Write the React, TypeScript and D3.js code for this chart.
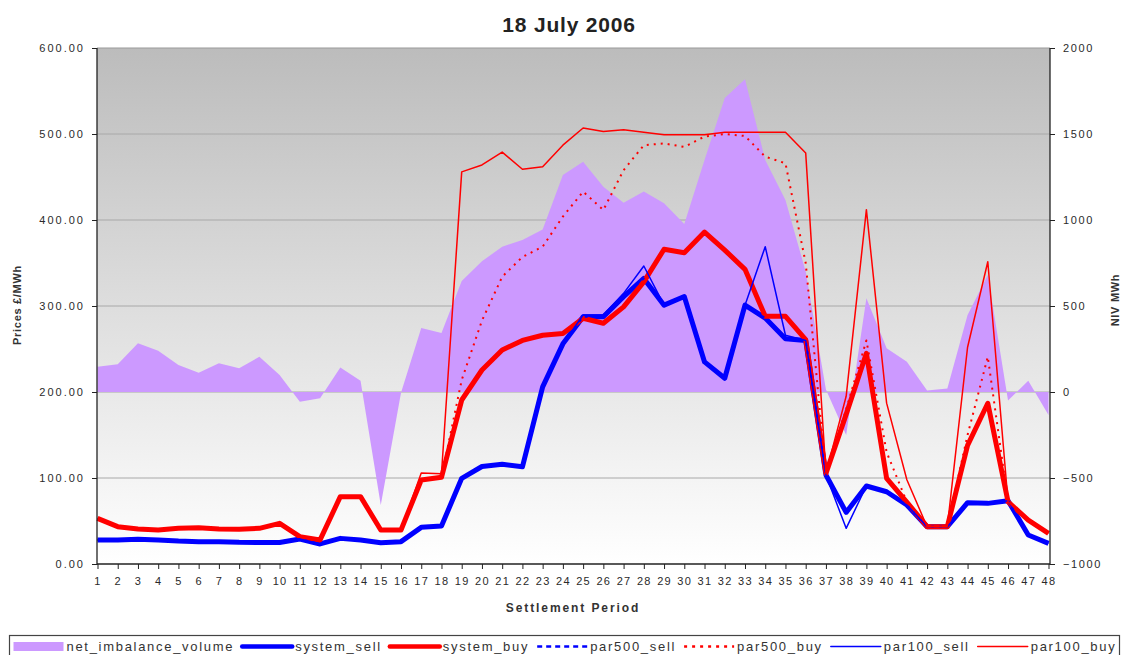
import React, { useEffect, useRef } from 'react';
import * as d3 from 'd3';

// settlement periods on the x axis
const periods = [
  1, 2, 3, 4, 5, 6, 7, 8, 9, 10, 11, 12, 13, 14, 15, 16, 17, 18, 19, 20, 21, 22, 23, 24,
  25, 26, 27, 28, 29, 30, 31, 32, 33, 34, 35, 36, 37, 38, 39, 40, 41, 42, 43, 44, 45, 46, 47, 48,
];

// NIV MWh (right axis)
const netImbalanceVolume = [
  147, 161, 283, 240, 157, 112, 167, 138, 205, 99, -56, -37, 143, 66, -657, -5, 372, 343, 646, 760, 845, 884, 945, 1262,
  1339, 1194, 1101, 1165, 1097, 977, 1349, 1709, 1818, 1349, 1116, 700, 15, -250, 545, 254, 176, 8, 21, 448, 680, -50, 66, -134,
];

// prices £/MWh (left axis)
const systemSell = [
  28, 28, 28.7, 28, 26.7, 26, 26, 25.2, 25, 25, 29, 23.3, 29.8, 28, 24.8, 26, 42.6, 44.2, 99.6, 113.4, 116, 113, 206, 256,
  287.6, 287.6, 310.8, 332, 301, 311, 235, 216, 301, 286, 262, 260, 103.5, 60, 90.7, 84, 68.6, 43.4, 43.4, 71.3, 70.5, 73.6, 33.7, 24,
];
const systemBuy = [
  53, 43.4, 40.7, 39.5, 41.5, 42.2, 40.7, 40.3, 41.5, 47.3, 31.8, 28, 78.3, 78.3, 39.5, 39.5, 97.7, 100.8, 190.7, 225.6, 248.8, 260, 266, 268,
  285.7, 280, 299, 328, 366, 362, 386, 365, 342.6, 288, 288, 261, 105.4, 174, 245, 99.6, 72, 43.4, 43.4, 138, 186.9, 72.4, 51, 35.7,
];
const par500Sell = [
  28, 28, 28.7, 28, 26.7, 26, 26, 25.2, 25, 25, 29, 23.3, 29.8, 28, 24.8, 26, 42.6, 44.2, 99.6, 113.4, 116, 113, 206, 256,
  287.6, 287.6, 310.8, 332, 301, 311, 235, 216, 301, 286, 262, 260, 103.5, 60, 90.7, 84, 68.6, 43.4, 43.4, 71.3, 70.5, 73.6, 33.7, 24,
];
const par500Buy = [
  53, 43.4, 40.7, 39.5, 41.5, 42.2, 40.7, 40.3, 41.5, 47.3, 31.8, 28, 78.3, 78.3, 39.5, 39.5, 97.7, 100.8, 214, 283, 334, 357, 369, 404,
  433, 411.6, 458, 487, 489, 485, 497, 500, 497.7, 473.6, 466, 350, 105.4, 180, 260, 130, 72, 43.4, 43.4, 150, 241, 72.4, 51, 35.7,
];
const par100Sell = [
  28, 28, 28.7, 28, 26.7, 26, 26, 25.2, 25, 25, 29, 23.3, 29.8, 28, 24.8, 26, 42.6, 44.2, 99.6, 113.4, 116, 113, 206, 256,
  289.5, 289.5, 314.7, 346.5, 301, 311, 235, 216, 301, 369, 266, 260, 103.5, 41.5, 90.7, 84, 68.6, 43.4, 43.4, 71.3, 70.5, 73.6, 33.7, 24,
];
const par100Buy = [
  53, 43.4, 40.7, 39.5, 41.5, 42.2, 40.7, 40.3, 41.5, 47.3, 31.8, 28, 78.3, 78.3, 39.5, 39.5, 105.8, 105, 456, 464, 479, 459, 462, 487,
  507, 503, 505, 502, 499, 499, 499, 502, 502, 502, 502, 478, 105.4, 195, 412, 187, 98, 43.4, 43.4, 252, 351.5, 72.4, 51, 35.7,
];

const priceTicks = [0, 100, 200, 300, 400, 500, 600];
const nivTicks = [-1000, -500, 0, 500, 1000, 1500, 2000];

const lineSeries = [
  { name: 'system_sell', values: systemSell, color: '#0000ff', width: 5, dash: null },
  { name: 'system_buy', values: systemBuy, color: '#ff0000', width: 5, dash: null },
  { name: 'par500_sell', values: par500Sell, color: '#0000ff', width: 2, dash: '3,5' },
  { name: 'par500_buy', values: par500Buy, color: '#ff0000', width: 2, dash: '2,5' },
  { name: 'par100_sell', values: par100Sell, color: '#0000ff', width: 1.5, dash: null },
  { name: 'par100_buy', values: par100Buy, color: '#ff0000', width: 1.5, dash: null },
];

const FONT = '"Liberation Sans", Arial, sans-serif';
const AREA_COLOR = '#cc99ff';

export default function App() {
  const ref = useRef<SVGSVGElement>(null);

  useEffect(() => {
    const svg = d3.select(ref.current);
    svg.selectAll('*').remove();

    const left = 97, right = 1050, top = 48, bottom = 564;

    const x = d3.scaleLinear().domain([1, 48]).range([97.5, 1048.5]);
    const yL = d3.scaleLinear().domain([0, 600]).range([bottom, top]);
    const yR = d3.scaleLinear().domain([-1000, 2000]).range([bottom, top]);

    svg.append('rect').attr('width', 1123).attr('height', 655).attr('fill', '#fff');

    // plot background gradient
    const grad = svg.append('defs').append('linearGradient')
      .attr('id', 'bg-grad').attr('x1', 0).attr('y1', 0).attr('x2', 0).attr('y2', 1);
    grad.append('stop').attr('offset', '0%').attr('stop-color', '#bcbcbc');
    grad.append('stop').attr('offset', '100%').attr('stop-color', '#ffffff');

    svg.append('rect')
      .attr('x', left).attr('y', top)
      .attr('width', right - left).attr('height', bottom - top)
      .attr('fill', 'url(#bg-grad)');

    // gridlines
    svg.append('g').selectAll('line')
      .data(priceTicks.filter(d => d > 0))
      .enter().append('line')
      .attr('x1', left).attr('x2', right)
      .attr('y1', d => yL(d)).attr('y2', d => yL(d))
      .attr('stroke', d => (d === 600 ? '#999' : '#a8a8a8'))
      .attr('stroke-width', 1);

    // net imbalance volume area
    const area = d3.area<number>()
      .x((d, i) => x(periods[i]))
      .y0(yR(0))
      .y1(d => yR(d));
    svg.append('path')
      .datum(netImbalanceVolume)
      .attr('d', area)
      .attr('fill', AREA_COLOR);

    // price lines
    const line = d3.line<number>()
      .x((d, i) => x(periods[i]))
      .y(d => yL(d));
    lineSeries.forEach(s => {
      const p = svg.append('path')
        .datum(s.values)
        .attr('d', line)
        .attr('fill', 'none')
        .attr('stroke', s.color)
        .attr('stroke-width', s.width)
        .attr('stroke-linejoin', 'round');
      if (s.dash) p.attr('stroke-dasharray', s.dash);
    });

    // axes
    const axisColor = '#222';
    const leftAxis = svg.append('g')
      .attr('transform', `translate(${left},0)`)
      .call(d3.axisLeft(yL).tickValues(priceTicks).tickFormat(d3.format('.2f')).tickSize(5).tickSizeOuter(0));
    const rightAxis = svg.append('g')
      .attr('transform', `translate(${right},0)`)
      .call(d3.axisRight(yR).tickValues(nivTicks).tickFormat(d3.format('d')).tickSize(5).tickSizeOuter(0));
    const bottomAxis = svg.append('g')
      .attr('transform', `translate(0,${bottom})`)
      .call(d3.axisBottom(x).tickValues(periods).tickFormat(d3.format('d')).tickSize(5).tickSizeOuter(0));

    [leftAxis, rightAxis, bottomAxis].forEach(g => {
      g.select('.domain').remove();
      g.selectAll('line').attr('stroke', axisColor);
      g.selectAll('text')
        .attr('fill', '#2a2a2a')
        .style('font-family', FONT)
        .style('font-size', '11px')
        .style('letter-spacing', '1.3px');
    });
    leftAxis.selectAll('text').attr('x', -12).style('letter-spacing', '2px');
    rightAxis.selectAll('text').attr('x', 13).style('letter-spacing', '1.6px');
    bottomAxis.selectAll('text').attr('y', 13);

    svg.append('line').attr('x1', left).attr('x2', left).attr('y1', top).attr('y2', bottom + 1)
      .attr('stroke', axisColor).attr('stroke-width', 1.3);
    svg.append('line').attr('x1', right).attr('x2', right).attr('y1', top).attr('y2', bottom + 1)
      .attr('stroke', axisColor).attr('stroke-width', 1.3);
    svg.append('line').attr('x1', left).attr('x2', right).attr('y1', bottom).attr('y2', bottom)
      .attr('stroke', axisColor).attr('stroke-width', 1.3);

    // title and axis labels
    svg.append('text')
      .attr('x', 569).attr('y', 32)
      .attr('text-anchor', 'middle')
      .style('font-family', FONT).style('font-size', '21px').style('font-weight', 'bold')
      .style('letter-spacing', '0.8px')
      .attr('fill', '#222')
      .text('18 July 2006');

    svg.append('text')
      .attr('x', 573).attr('y', 612)
      .attr('text-anchor', 'middle')
      .style('font-family', FONT).style('font-size', '12px').style('font-weight', 'bold')
      .style('letter-spacing', '1.9px')
      .attr('fill', '#333')
      .text('Settlement Period');

    svg.append('text')
      .attr('transform', 'translate(21,305) rotate(-90)')
      .attr('text-anchor', 'middle')
      .style('font-family', FONT).style('font-size', '11px').style('font-weight', 'bold')
      .style('letter-spacing', '0.7px')
      .attr('fill', '#333')
      .text('Prices £/MWh');

    svg.append('text')
      .attr('transform', 'translate(1119,300) rotate(-90)')
      .attr('text-anchor', 'middle')
      .style('font-family', FONT).style('font-size', '11px').style('font-weight', 'bold')
      .style('letter-spacing', '0.7px')
      .attr('fill', '#333')
      .text('NIV MWh');

    // legend
    const legend = svg.append('g');
    legend.append('rect')
      .attr('x', 9.5).attr('y', 635.5)
      .attr('width', 1110).attr('height', 30)
      .attr('fill', '#fff').attr('stroke', '#444').attr('stroke-width', 1.2);

    const legendItems = [
      { name: 'net_imbalance_volume', kind: 'area', color: AREA_COLOR, width: 0, dash: null as string | null },
      ...lineSeries.map(s => ({
        name: s.name,
        kind: 'line',
        color: s.color,
        width: s.width === 5 ? 4.5 : s.width === 2 ? 2.5 : 1.5,
        dash: s.dash ? (s.name === 'par500_sell' ? '5,4' : '3,5') : null,
      })),
    ];
    const ly = 646.5;
    let lx = 13.5;
    legendItems.forEach(it => {
      if (it.kind === 'area') {
        legend.append('rect').attr('x', lx).attr('y', ly - 4.5).attr('width', 50).attr('height', 9).attr('fill', it.color);
      } else {
        const l = legend.append('line')
          .attr('x1', lx).attr('x2', lx + 50).attr('y1', ly).attr('y2', ly)
          .attr('stroke', it.color).attr('stroke-width', it.width)
          .attr('stroke-linecap', it.dash ? 'butt' : 'round');
        if (it.dash) l.attr('stroke-dasharray', it.dash);
      }
      const t = legend.append('text')
        .attr('x', lx + 53).attr('y', ly + 4.5)
        .style('font-family', FONT).style('font-size', '13px')
        .style('letter-spacing', '1.7px')
        .attr('fill', '#333')
        .text(it.name);
      const w = (t.node() as SVGTextElement).getComputedTextLength();
      lx = lx + 53 + w + 8;
    });
  }, []);

  return (
    <svg
      ref={ref}
      width={1123}
      height={655}
      style={{ position: 'absolute', left: 0, top: 0, display: 'block' }}
    />
  );
}
